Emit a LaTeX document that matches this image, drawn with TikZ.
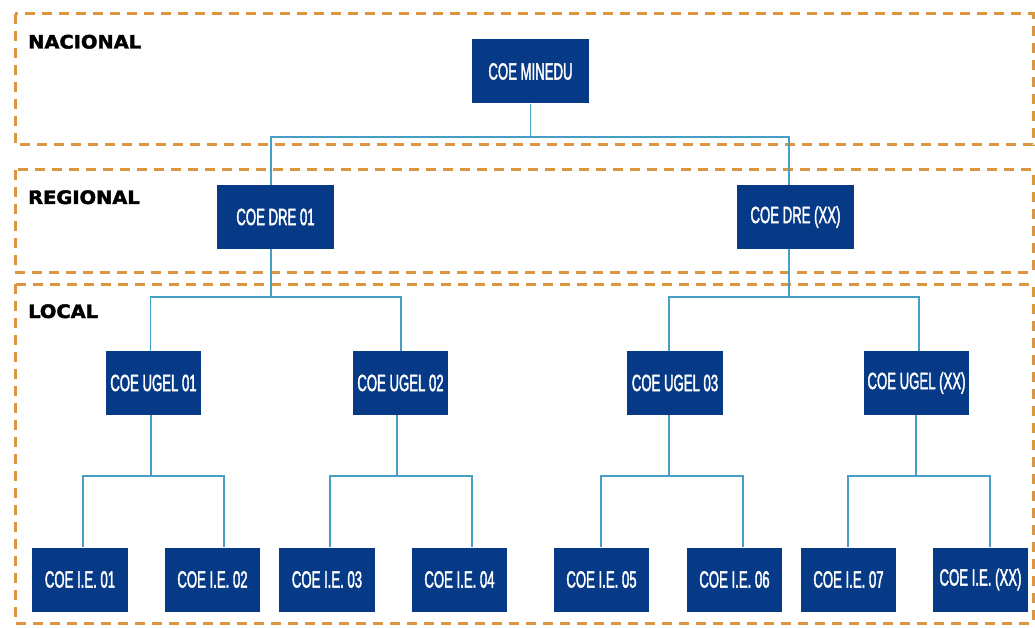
\documentclass[tikz,border=0pt]{standalone}
\usepackage{fontspec}
\newfontfamily\boxfont[FakeStretch=0.56,FakeBold=1.6]{Liberation Sans}
\newfontfamily\levelfont[FakeStretch=1.05,FakeBold=2.2]{DejaVu Sans}
\definecolor{boxblue}{RGB}{6,58,134}
\definecolor{linkblue}{RGB}{70,158,196}
\definecolor{dashorange}{RGB}{222,149,64}
\tikzset{
  orgbox/.style={rectangle, fill=boxblue, text=white, inner sep=0pt,
    minimum height=64pt, font=\boxfont\fontsize{23.5}{23.5}\selectfont},
  wbox/.style={minimum width=#1},
  link/.style={draw=linkblue, line width=1.5pt},
  levelbox/.style={draw=dashorange, line width=3pt, dash pattern=on 10pt off 7pt},
  levellabel/.style={anchor=base west, inner sep=0pt, text=black,
    font=\levelfont\bfseries\fontsize{18.5}{18.5}\selectfont}
}
\begin{document}
\begin{tikzpicture}[x=1pt,y=-1pt]
\useasboundingbox (0,0) rectangle (1035,628);
% level frames
\draw[levelbox] (15,14) rectangle (1033,145);
\draw[levelbox] (15,170) rectangle (1033,272);
\draw[levelbox] (15,284) rectangle (1033,623);
\node[levellabel] (lnac) at (28,48.5) {NACIONAL};
\node[levellabel] (lreg) at (28,204) {REGIONAL};
\node[levellabel] (lloc) at (28,318) {LOCAL};
% nodes
\node[orgbox, wbox=117pt] (minedu) at (530.5,71.5) {COE MINEDU};
\node[orgbox, wbox=117pt] (dre1) at (275.5,217) {COE DRE 01};
\node[orgbox, wbox=117pt] (drex) at (795.5,217) {COE DRE (XX)};
\node[orgbox, wbox=95pt] (ugel1) at (153.5,383) {COE UGEL 01};
\node[orgbox, wbox=95pt] (ugel2) at (400.5,383) {COE UGEL 02};
\node[orgbox, wbox=96pt] (ugel3) at (675,383) {COE UGEL 03};
\node[orgbox, wbox=105pt] (ugelx) at (916.5,383) {COE UGEL (XX)};
\node[orgbox, wbox=96pt] (ie1) at (80,579.5) {COE I.E. 01};
\node[orgbox, wbox=95pt] (ie2) at (212.5,579.5) {COE I.E. 02};
\node[orgbox, wbox=96pt] (ie3) at (327,579.5) {COE I.E. 03};
\node[orgbox, wbox=95pt] (ie4) at (459.5,579.5) {COE I.E. 04};
\node[orgbox, wbox=95pt] (ie5) at (601.5,579.5) {COE I.E. 05};
\node[orgbox, wbox=95pt] (ie6) at (734.5,579.5) {COE I.E. 06};
\node[orgbox, wbox=95pt] (ie7) at (848.5,579.5) {COE I.E. 07};
\node[orgbox, wbox=95pt] (iex) at (980.5,579.5) {COE I.E. (XX)};
% connectors: national -> regional
\draw[link] (minedu.south) -- (minedu.south |- 0,137) -| ([xshift=-4.5pt]dre1.north);
\draw[link] (minedu.south |- 0,137) -| ([xshift=-6.5pt]drex.north);
% regional -> local
\draw[link] ([xshift=-4.5pt]dre1.south) -- ([xshift=-4.5pt]dre1.south |- 0,297) -| ([xshift=-3pt]ugel1.north);
\draw[link] ([xshift=-4.5pt]dre1.south |- 0,297) -| ([xshift=0.5pt]ugel2.north);
\draw[link] ([xshift=-6.5pt]drex.south) -- ([xshift=-6.5pt]drex.south |- 0,297) -| ([xshift=-6pt]ugel3.north);
\draw[link] ([xshift=-6.5pt]drex.south |- 0,297) -| ([xshift=2.5pt]ugelx.north);
% UGEL -> I.E.
\draw[link] ([xshift=-2.5pt]ugel1.south) -- ([xshift=-2.5pt]ugel1.south |- 0,476) -| ([xshift=3pt]ie1.north);
\draw[link] ([xshift=-2.5pt]ugel1.south |- 0,476) -| ([xshift=11.5pt]ie2.north);
\draw[link] ([xshift=-3.5pt]ugel2.south) -- ([xshift=-3.5pt]ugel2.south |- 0,476) -| ([xshift=3pt]ie3.north);
\draw[link] ([xshift=-3.5pt]ugel2.south |- 0,476) -| ([xshift=12.5pt]ie4.north);
\draw[link] ([xshift=-6pt]ugel3.south) -- ([xshift=-6pt]ugel3.south |- 0,476) -| ([xshift=-0.5pt]ie5.north);
\draw[link] ([xshift=-6pt]ugel3.south |- 0,476) -| ([xshift=8.5pt]ie6.north);
\draw[link] ([xshift=-0.5pt]ugelx.south) -- ([xshift=-0.5pt]ugelx.south |- 0,476) -| ([xshift=-0.5pt]ie7.north);
\draw[link] ([xshift=-0.5pt]ugelx.south |- 0,476) -| ([xshift=9.5pt]iex.north);
\end{tikzpicture}
\end{document}
